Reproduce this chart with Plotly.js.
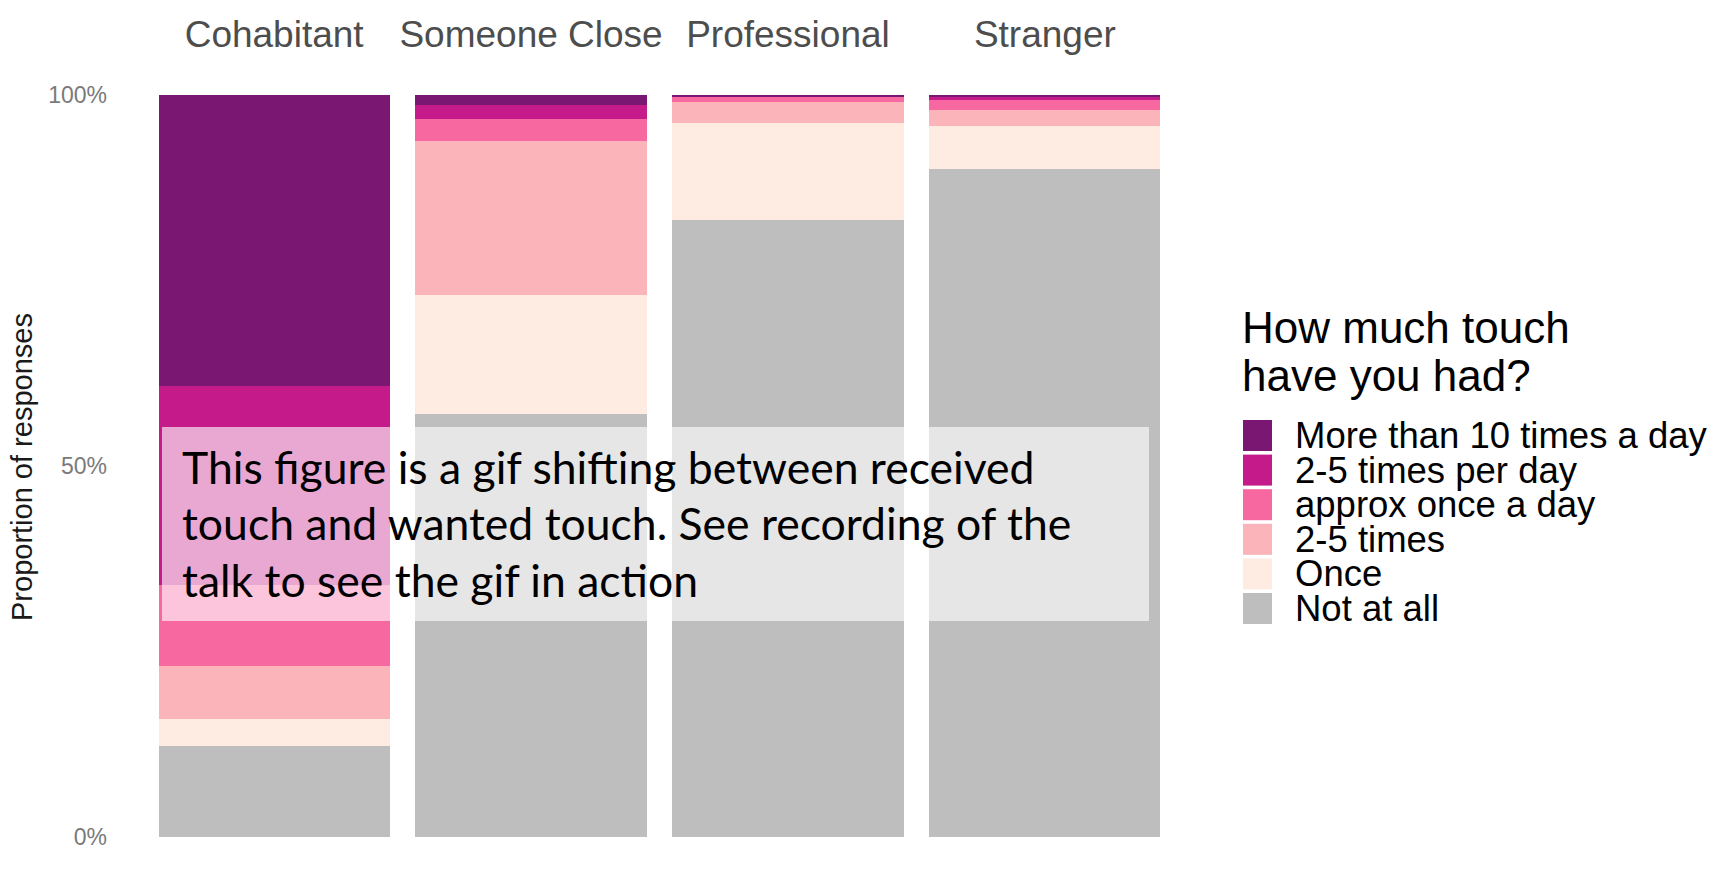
<!DOCTYPE html>
<html>
<head>
<meta charset="utf-8">
<script src="https://cdn.plot.ly/plotly-3.0.1.min.js"></script>
<style>html,body{margin:0;padding:0;background:#fff;}#chart{width:1736px;height:886px;}</style>
</head>
<body>
<div id="chart"></div>
<script>
// ---- data (proportions of responses) ----
const categories = ['Cohabitant', 'Someone Close', 'Professional', 'Stranger'];
const seriesNames = ['Not at all', 'Once', '2-5 times', 'approx once a day', '2-5 times per day', 'More than 10 times a day'];
const notAtAll       = [0.123, 0.570, 0.831, 0.900];
const once           = [0.036, 0.160, 0.131, 0.058];
const twoFiveTimes   = [0.072, 0.208, 0.029, 0.022];
const approxOnceADay = [0.109, 0.030, 0.006, 0.013];
const twoFivePerDay  = [0.268, 0.018, 0.001, 0.005];
const moreThanTen    = [0.392, 0.014, 0.002, 0.002];
const yTickVals = [0, 0.5, 1];
const yTickText = ['0%', '50%', '100%'];
const yTitle = 'Proportion of responses';
const legendTitleLines = ['How much touch', 'have you had?'];
const overlayLines = ['This figure is a gif shifting between received',
                      'touch and wanted touch. See recording of the',
                      'talk to see the gif in action'];

// ---- styling ----
const seriesValues = [notAtAll, once, twoFiveTimes, approxOnceADay, twoFivePerDay, moreThanTen];
const colors = ['#BEBEBE', '#FEEBE2', '#FBB4B9', '#F768A1', '#C51B8A', '#7A1772'];
const W = 1736, H = 886;
const M = {l: 120, r: 537, t: 58, b: 12};
const PW = W - M.l - M.r, PH = H - M.t - M.b;
const px = x => (x - M.l) / PW;
const py = y => (H - M.b - y) / PH;
const FONT = 'Liberation Sans, Arial, Helvetica, sans-serif';

const traces = seriesNames.map((name, i) => ({
  type: 'bar',
  name: name,
  x: categories,
  y: seriesValues[i],
  width: 0.9,
  marker: {color: colors[i], line: {width: 0}},
  showlegend: false,
  hoverinfo: 'name+y'
}));

const shapes = [];
const annotations = [];

// y-axis title (placed as rotated text next to the tick labels)
annotations.push({xref: 'paper', yref: 'paper', x: px(22), y: py(467),
  xanchor: 'center', yanchor: 'middle', showarrow: false, textangle: -90, text: yTitle,
  font: {family: FONT, size: 29, color: '#1A1A1A'}});

// custom legend (tight key spacing as in the reference)
legendTitleLines.forEach((t, i) => {
  annotations.push({xref: 'paper', yref: 'paper', x: px(1240), y: py(327 + i * 48.7),
    xanchor: 'left', yanchor: 'middle', showarrow: false, text: t,
    font: {family: FONT, size: 44, color: '#000'}});
});
const legendOrder = seriesNames.map((n, i) => i).reverse();
legendOrder.forEach((si, row) => {
  const top = 420 + row * 34.6;
  shapes.push({type: 'rect', xref: 'paper', yref: 'paper', x0: px(1243), x1: px(1272),
    y0: py(top + 31), y1: py(top), fillcolor: colors[si], line: {width: 0}});
  annotations.push({xref: 'paper', yref: 'paper', x: px(1293), y: py(top + 15.5),
    xanchor: 'left', yanchor: 'middle', showarrow: false, text: seriesNames[si],
    font: {family: FONT, size: 36.5, color: '#000'}});
});

// translucent overlay note
shapes.push({type: 'rect', xref: 'paper', yref: 'paper', layer: 'above',
  x0: px(162), x1: px(1149), y0: py(621), y1: py(427),
  fillcolor: 'rgba(255,255,255,0.62)', line: {width: 0}});
overlayLines.forEach((t, i) => {
  annotations.push({xref: 'paper', yref: 'paper', x: px(180), y: py(466 + i * 56.7),
    xanchor: 'left', yanchor: 'middle', showarrow: false, text: t,
    font: {family: 'Lato, Open Sans, sans-serif', size: 44.5, color: '#000'}});
});

const layout = {
  width: W, height: H,
  margin: M,
  paper_bgcolor: '#fff', plot_bgcolor: '#fff',
  barmode: 'stack',
  bargap: 0.1,
  showlegend: false,
  xaxis: {
    side: 'top', type: 'category', range: [-0.6, 3.6],
    showgrid: false, zeroline: false, showline: false, ticks: '',
    tickfont: {family: FONT, size: 37, color: '#4D4D4D'},
    ticklabelstandoff: 3,
    fixedrange: true
  },
  yaxis: {
    range: [-0.05, 1.05],
    tickvals: yTickVals, ticktext: yTickText,
    showgrid: false, zeroline: false, showline: false, ticks: '',
    tickfont: {family: FONT, size: 23, color: '#7A7A7A'},
    ticklabelstandoff: 12,
    fixedrange: true
  },
  shapes: shapes,
  annotations: annotations
};

Plotly.newPlot('chart', traces, layout, {displayModeBar: false, staticPlot: true});
</script>
</body>
</html>
